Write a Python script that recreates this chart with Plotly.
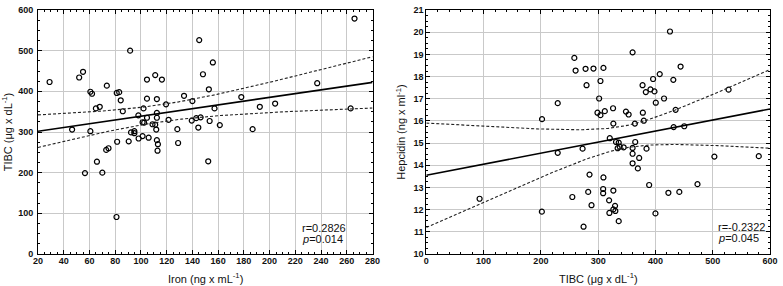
import numpy as np
import plotly.graph_objects as go

# ---- Left panel: Iron vs TIBC ----
iron = [29, 46.5, 52, 55, 60.7, 62, 60.7, 65, 68, 73.5, 91.6, 81.2, 83.1, 84.3, 85.9,
        92.3, 94.9, 94.9, 98, 102, 101.3, 102.5, 104.7, 104.7, 104.7, 111.1, 112.4, 112.4,
        112.4, 116.3, 119.5, 121.5, 109, 111.1, 111.9, 133.5, 128.3, 140, 139.5, 143,
        146.4, 144.6, 145.3, 73, 74.8, 65.8, 56.5, 70, 81, 81.5, 90.5, 98.2, 101.3, 106,
        112.4, 113.2, 112.9, 128.9, 266, 155.9, 148.2, 152.8, 157.2, 178, 192.4, 204.3,
        237, 263, 153.4, 161.3, 186.8, 152.3]
tibc_l = [423, 306, 434, 448, 399, 394, 302, 358, 362, 414, 500, 396, 398, 378, 351,
          299, 302, 297, 341, 358, 324, 323, 429, 382, 335, 440, 381, 347,
          335, 429, 368, 330, 319, 318, 306, 389, 307, 376, 328, 334,
          336, 311, 526, 256, 260, 227, 199, 200, 91, 276, 277, 284, 290, 286,
          280, 270, 254, 273, 579, 471, 442, 405, 358, 386, 362, 370,
          420, 358, 327, 317, 307, 228]

# regression line / confidence band
left_fit_x = [20, 280]
left_fit_y = [302, 422]
left_band = dict(x0=114.7, hmin=21.0, slope=0.3595)
left_stats = ["r=0.2826", "<i>p</i>=0.014"]

# ---- Right panel: TIBC vs Hepcidin ----
tibc_r = [93, 202, 201.7, 229.4, 229.4, 254.9, 258.4, 260.6, 278, 291.8, 309.2, 279.7,
          304, 301.7, 298.8, 304, 311.6, 326, 326.5, 360.1, 348.5, 353.2, 364.1, 377.5,
          383.2, 391.3, 398.3, 395.9, 407.5, 425.4, 400.6, 415, 378, 379.7, 443.9, 431.2,
          435.2, 431.8, 450.3, 527.7, 320.3, 331.2, 335.9, 364.7, 337.6, 344.5, 334,
          360.1, 384.4, 272.8, 360.1, 371.6, 360.1, 369.3, 502.9, 580.4, 284.9, 309.2,
          282.6, 308.7, 308.7, 326.5, 389, 422.6, 441.7, 473.4, 288.4, 319.1, 329.5,
          326.5, 330, 319.6, 335.9, 400, 274.5]
hepcidin = [12.49, 16.08, 11.91, 16.80, 14.56, 12.57, 18.84, 18.27, 18.35, 18.36, 18.39, 17.61,
            17.80, 17.01, 16.37, 16.26, 16.44, 16.57, 15.88, 19.09, 16.42, 16.29, 15.88, 17.61,
            17.30, 17.42, 17.33, 17.89, 18.11, 20.03, 16.82, 17.01, 16.37, 16.01, 18.45, 17.85,
            16.50, 15.72, 15.76, 17.41, 15.22, 15.05, 15.02, 15.05, 14.84, 14.81, 14.77,
            14.78, 14.75, 14.75, 14.52, 14.33, 14.09, 13.86, 14.39, 14.41, 13.58, 13.45,
            12.80, 12.93, 12.74, 12.86, 13.11, 12.76, 12.80, 13.15, 12.20, 12.42, 12.17,
            12.01, 11.94, 11.85, 11.48, 11.83, 11.23]

right_fit_x = [0, 600]
right_fit_y = [13.55, 16.54]
right_band = dict(x0=345.0, hmin=0.50, slope=0.00666)
right_stats = ["r=-0.2322", "<i>p</i>=0.045"]

x_titles = ["Iron (ng x mL<sup>-1</sup>)", "TIBC (μg x dL<sup>-1</sup>)"]
y_titles = ["TIBC (μg x dL<sup>-1</sup>)", "Hepcidin (ng x ml<sup>-1</sup>)"]


def band(fx, fy, b, n=120):
    xs = np.linspace(fx[0], fx[1], n)
    fit = np.interp(xs, fx, fy)
    h = np.sqrt(b["hmin"] ** 2 + (b["slope"] * (xs - b["x0"])) ** 2)
    return xs, fit + h, fit - h


fig = go.Figure()

marker = dict(symbol="circle-open", size=5, color="black", line=dict(width=1.2, color="black"))


def add_panel(xd, yd, fx, fy, b, xa, ya):
    fig.add_trace(go.Scatter(x=xd, y=yd, mode="markers", marker=marker,
                             xaxis=xa, yaxis=ya, showlegend=False))
    fig.add_trace(go.Scatter(x=fx, y=fy, mode="lines", line=dict(color="black", width=1.6),
                             xaxis=xa, yaxis=ya, showlegend=False))
    xs, up, lo = band(fx, fy, b)
    for arr in (up, lo):
        fig.add_trace(go.Scatter(x=xs, y=arr, mode="lines",
                                 line=dict(color="#222", width=1.1, dash="3px,2px"),
                                 xaxis=xa, yaxis=ya, showlegend=False))


add_panel(iron, tibc_l, left_fit_x, left_fit_y, left_band, "x", "y")
add_panel(tibc_r, hepcidin, right_fit_x, right_fit_y, right_band, "x2", "y2")

FAM = "Liberation Sans, Arial, sans-serif"
tickfont = dict(family=FAM, size=9, color="#111", weight="bold")
titlefont = dict(family=FAM, size=11, color="#111")

common = dict(showline=True, linecolor="black", linewidth=1, mirror="ticks",
              ticks="inside", ticklen=4, tickcolor="black",
              showgrid=True, gridcolor="#c9c9c9", gridwidth=1,
              zeroline=False, tickfont=tickfont, ticklabeloverflow="allow")

fig.update_layout(
    width=783, height=286,
    margin=dict(l=38, r=8, t=5, b=32),
    paper_bgcolor="white", plot_bgcolor="white",
    xaxis=dict(domain=[0, 0.457], range=[20, 280], dtick=20, tick0=20, ticklabelstandoff=-2,
               minor=dict(ticks="inside", ticklen=2, dtick=5, tickcolor="black", showgrid=False),
               anchor="y", **common),
    yaxis=dict(domain=[0, 1], range=[0, 600], dtick=100, ticklabelstandoff=2,
               title=dict(text=y_titles[0], font=titlefont, standoff=5),
               minor=dict(ticks="inside", ticklen=2, dtick=25, tickcolor="black", showgrid=False),
               anchor="x", **common),
    xaxis2=dict(domain=[0.5305, 1], range=[0, 600], dtick=100, ticklabelstandoff=-2,
                minor=dict(ticks="inside", ticklen=2, dtick=20, tickcolor="black", showgrid=False),
                anchor="y2", **common),
    yaxis2=dict(domain=[0, 1], range=[10, 21], dtick=1,
                title=dict(text=y_titles[1], font=titlefont, standoff=5),
                minor=dict(ticks="inside", ticklen=2, dtick=0.25, tickcolor="black", showgrid=False),
                anchor="x2", **common),
)

# x-axis titles placed as annotations below each panel
for xr, t in (("x domain", x_titles[0]), ("x2 domain", x_titles[1])):
    fig.add_annotation(xref=xr, yref="paper", x=0.5, y=-0.097, text=t, showarrow=False,
                       xanchor="center", yanchor="middle", font=titlefont)

statfont = dict(family=FAM, size=11, color="#111")
fig.add_annotation(xref="x", yref="y", x=224, y=65, text=left_stats[0], showarrow=False,
                   xanchor="left", yanchor="middle", font=statfont)
fig.add_annotation(xref="x", yref="y", x=224, y=38, text=left_stats[1], showarrow=False,
                   xanchor="left", yanchor="middle", font=statfont)
fig.add_annotation(xref="x2", yref="y2", x=505, y=11.23, text=right_stats[0], showarrow=False,
                   xanchor="left", yanchor="middle", font=statfont)
fig.add_annotation(xref="x2", yref="y2", x=505, y=10.70, text=right_stats[1], showarrow=False,
                   xanchor="left", yanchor="middle", font=statfont)

# remove the browser's default page margin so the figure fills the window exactly
fig.write_html("out.html", config={"displayModeBar": False},
               post_script="document.body.style.margin='0';")
